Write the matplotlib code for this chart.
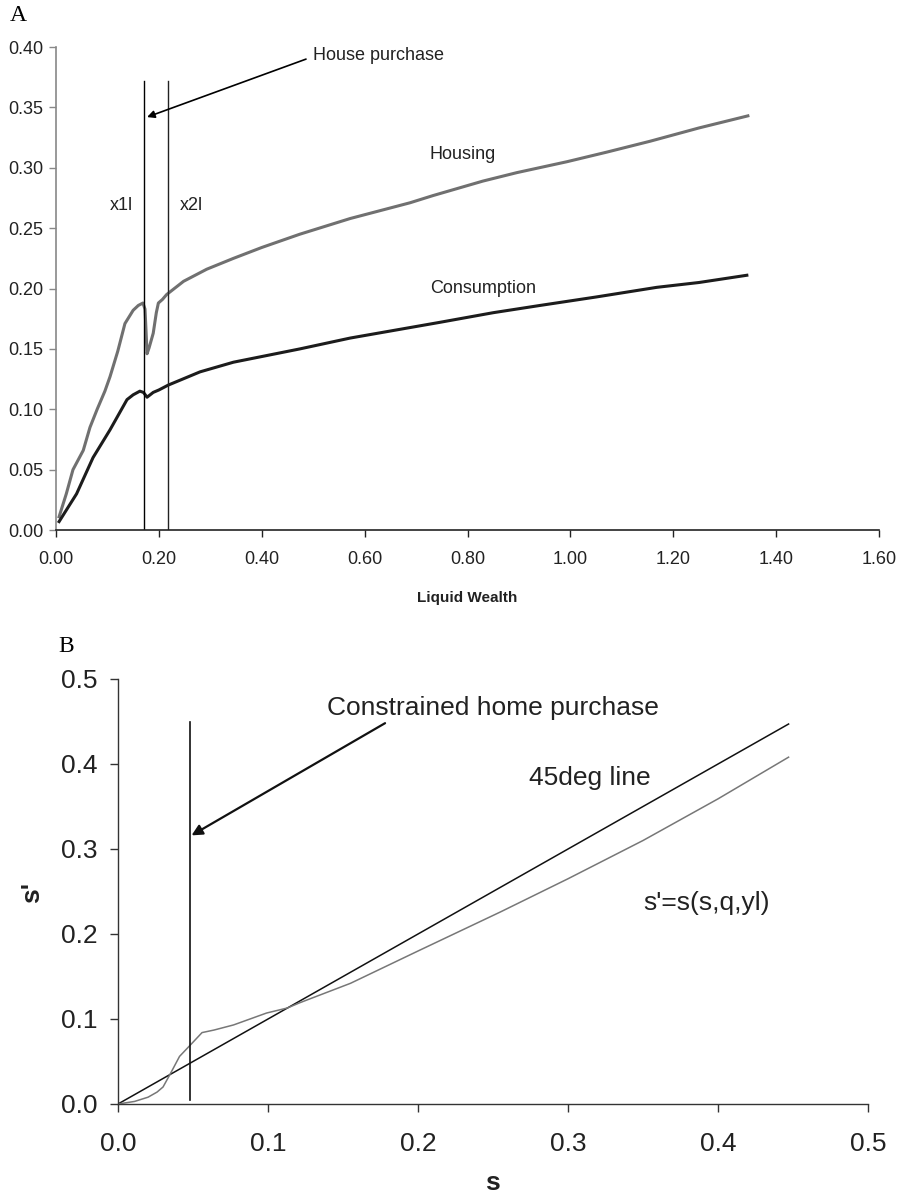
import numpy as np
import matplotlib
matplotlib.use('Agg')
import matplotlib.pyplot as plt

plt.rcParams['font.family'] = ['Liberation Sans', 'DejaVu Sans']

# Panel A: policy functions against liquid wealth
housing_x = [0.006, 0.02, 0.033, 0.053, 0.066, 0.08, 0.095, 0.105, 0.12, 0.134, 0.150,
             0.160, 0.169, 0.173, 0.175, 0.177, 0.181, 0.189, 0.195, 0.199, 0.207,
             0.215, 0.248, 0.293, 0.345, 0.40, 0.474, 0.572, 0.688, 0.733, 0.83,
             0.896, 0.993, 1.071, 1.155, 1.25, 1.345]
housing_y = [0.011, 0.03, 0.05, 0.066, 0.085, 0.10, 0.115, 0.127, 0.148, 0.171, 0.182,
             0.186, 0.188, 0.183, 0.165, 0.146, 0.151, 0.163, 0.18, 0.188, 0.191,
             0.195, 0.206, 0.216, 0.225, 0.234, 0.245, 0.258, 0.271, 0.277, 0.289,
             0.296, 0.305, 0.313, 0.322, 0.333, 0.343]

cons_x = [0.006, 0.04, 0.072, 0.105, 0.138, 0.150, 0.163, 0.170, 0.177, 0.183, 0.189,
          0.200, 0.218, 0.280, 0.345, 0.474, 0.572, 0.746, 0.85, 0.941, 1.05, 1.168,
          1.25, 1.343]
cons_y = [0.007, 0.03, 0.060, 0.083, 0.108, 0.112, 0.115, 0.114, 0.110, 0.112, 0.114,
          0.116, 0.120, 0.131, 0.139, 0.150, 0.159, 0.172, 0.180, 0.186, 0.193, 0.201,
          0.205, 0.211]

x1l = 0.171
x2l = 0.218
a_xticks = [0.0, 0.2, 0.4, 0.6, 0.8, 1.0, 1.2, 1.4, 1.6]
a_yticks = [0.0, 0.05, 0.10, 0.15, 0.20, 0.25, 0.30, 0.35, 0.40]

# Panel B: savings next period against savings now
line45_s = [0.0, 0.1, 0.2, 0.3, 0.4, 0.447]
line45_v = [0.0, 0.1, 0.2, 0.3, 0.4, 0.447]

policy_s = [0.0, 0.011, 0.02, 0.026, 0.03, 0.035, 0.041, 0.048, 0.056, 0.064, 0.077,
            0.099, 0.113, 0.121, 0.155, 0.2, 0.255, 0.3, 0.35, 0.4, 0.447]
policy_v = [0.0, 0.003, 0.008, 0.014, 0.02, 0.036, 0.056, 0.069, 0.084, 0.087, 0.093,
            0.107, 0.113, 0.119, 0.142, 0.180, 0.226, 0.265, 0.310, 0.359, 0.408]

s_purchase = 0.048
b_ticks = [0.0, 0.1, 0.2, 0.3, 0.4, 0.5]

fig = plt.figure(figsize=(8.99, 12.03), dpi=100)

# ---- Panel A ----
axA = fig.add_axes([0.0623, 0.5594, 0.9155, 0.4015])
axA.plot(housing_x, housing_y, color='#707070', lw=2.2, solid_joinstyle='round')
axA.plot(cons_x, cons_y, color='#1c1c1c', lw=2.2, solid_joinstyle='round')
axA.plot([x1l, x1l], [0, 0.372], color='black', lw=1.0)
axA.plot([x2l, x2l], [0, 0.372], color='#222222', lw=1.0)

axA.annotate('', xy=(0.177, 0.342), xytext=(0.486, 0.390),
             arrowprops=dict(arrowstyle='-|>', color='black', lw=1.2,
                             mutation_scale=11, shrinkA=0, shrinkB=0))
axA.text(0.50, 0.393, 'House purchase', fontsize=13, va='center', ha='left', color='#222222')
axA.text(0.105, 0.269, 'x1l', fontsize=13, va='center', ha='left', color='#222222')
axA.text(0.241, 0.269, 'x2l', fontsize=13, va='center', ha='left', color='#222222')
axA.text(0.727, 0.311, 'Housing', fontsize=13, va='center', ha='left', color='#222222')
axA.text(0.727, 0.200, 'Consumption', fontsize=13, va='center', ha='left', color='#222222')

axA.set_xlim(0, 1.6)
axA.set_ylim(0, 0.4)
axA.set_xticks(a_xticks)
axA.set_yticks(a_yticks)
axA.set_xticklabels([f'{t:.2f}' for t in a_xticks])
axA.set_yticklabels([f'{t:.2f}' for t in a_yticks])
for side in ['top', 'right']:
    axA.spines[side].set_visible(False)
axA.spines['left'].set_color('#888888')
axA.spines['left'].set_linewidth(1.2)
axA.spines['bottom'].set_color('#222222')
axA.spines['bottom'].set_linewidth(1.2)
axA.tick_params(axis='y', direction='out', length=5, width=1, color='#888888',
                labelsize=13, labelcolor='#222222', pad=4)
axA.tick_params(axis='x', direction='out', length=5, width=1, color='#222222',
                labelsize=13, labelcolor='#222222', pad=10)

fig.text(0.011, 0.987, 'A', family='Liberation Serif', fontsize=17, va='center', ha='left')
fig.text(0.5195, 0.503, 'Liquid Wealth', fontsize=11, fontweight='bold',
         va='center', ha='center', color='#222222')

# ---- Panel B ----
axB = fig.add_axes([0.1313, 0.0823, 0.8343, 0.3533])
axB.plot(line45_s, line45_v, color='#111111', lw=1.1)
axB.plot(policy_s, policy_v, color='#777777', lw=1.1)
axB.plot([s_purchase, s_purchase], [0.005, 0.449], color='#111111', lw=1.2)

axB.annotate('', xy=(0.049, 0.316), xytext=(0.178, 0.448),
             arrowprops=dict(arrowstyle='-|>', color='#111111', lw=1.6,
                             mutation_scale=16, shrinkA=0, shrinkB=0))
axB.text(0.139, 0.466, 'Constrained home purchase', fontsize=19, va='center', ha='left',
         color='#222222')
axB.text(0.274, 0.384, '45deg line', fontsize=19, va='center', ha='left', color='#222222')
axB.text(0.35, 0.236, "s'=s(s,q,yl)", fontsize=19, va='center', ha='left', color='#222222')

axB.set_xlim(0, 0.5)
axB.set_ylim(0, 0.5)
axB.set_xticks(b_ticks)
axB.set_yticks(b_ticks)
axB.set_xticklabels([f'{t:.1f}' for t in b_ticks])
axB.set_yticklabels([f'{t:.1f}' for t in b_ticks])
for side in ['top', 'right']:
    axB.spines[side].set_visible(False)
for side in ['left', 'bottom']:
    axB.spines[side].set_color('#333333')
    axB.spines[side].set_linewidth(1.0)
axB.tick_params(axis='y', direction='out', length=6, width=1, color='#333333',
                labelsize=19, labelcolor='#222222', pad=9)
axB.tick_params(axis='x', direction='out', length=6, width=1, color='#333333',
                labelsize=19, labelcolor='#222222', pad=14)

fig.text(0.0645, 0.463, 'B', family='Liberation Serif', fontsize=17, va='center', ha='left')
fig.text(0.548, 0.0166, 's', fontsize=19, fontweight='bold', va='center', ha='center',
         color='#222222')
fig.text(0.0356, 0.2585, "s'", fontsize=19, fontweight='bold', va='center', ha='center',
         rotation=90, color='#222222')

fig.savefig('out.png', dpi=100)
